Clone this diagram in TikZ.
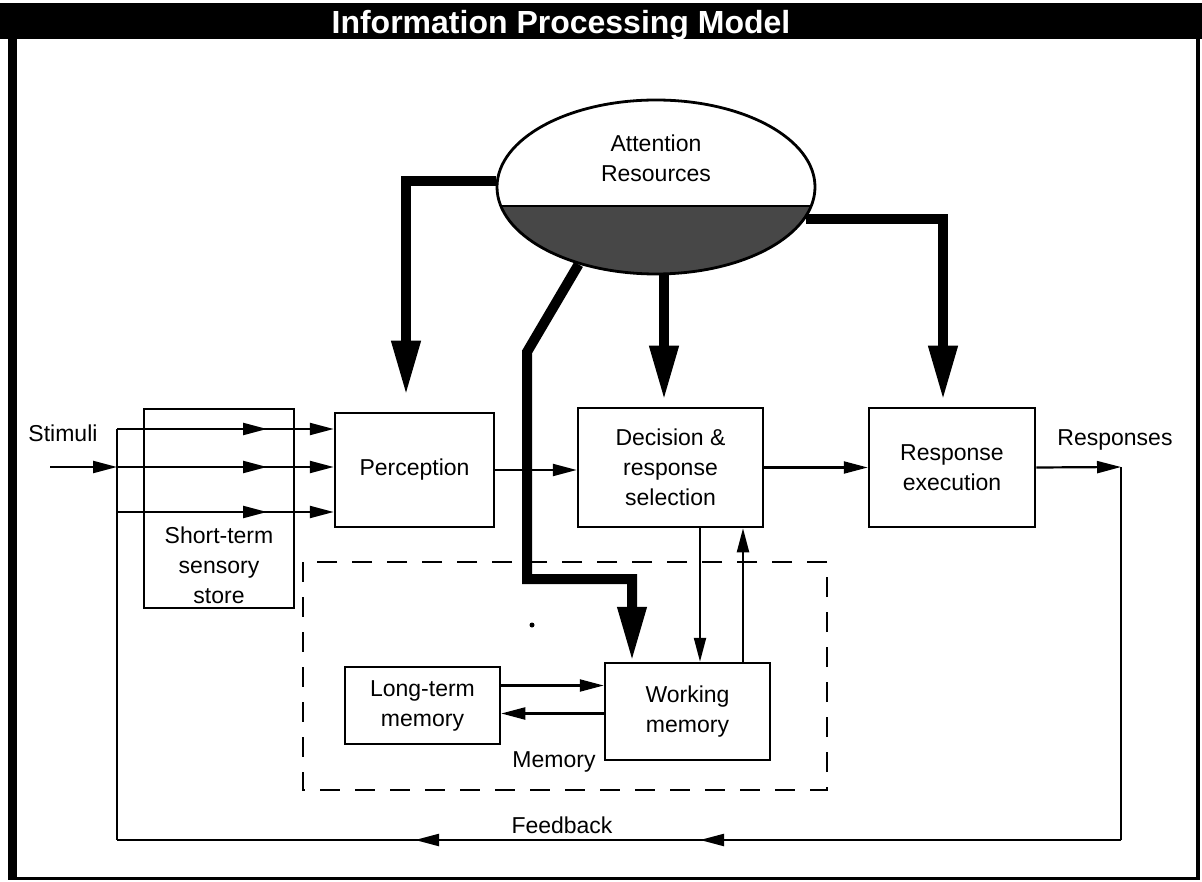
\documentclass[tikz,border=0pt]{standalone}
\usepackage{fontspec}
\setmainfont{Liberation Sans}
\usetikzlibrary{arrows.meta,shapes.geometric,decorations.markings}

\tikzset{
  box/.style={draw,line width=2.5pt,inner sep=0pt,align=center,
    font=\fontsize{23}{30}\selectfont},
  lbl/.style={inner sep=0pt,align=center,font=\fontsize{23}{30}\selectfont},
  thin arr/.style={line width=2.2pt,-{Triangle[length=24pt,width=12pt]}},
  thick arr/.style={line width=10pt,-{Triangle[length=55pt,width=27pt]},
    shorten >=6pt},
  mid arr/.style={postaction={decorate,decoration={markings,
      mark=at position #1 with {\arrow{Triangle[length=24pt,width=12pt]}}}}},
  memframe/.style={line width=2.5pt,dash pattern=on 20pt off 15pt}
}

\begin{document}
\begin{tikzpicture}[x=1pt,y=-1pt]
  \useasboundingbox (0,0) rectangle (1202,882);
  \fill (0,3) rectangle (1202,39);
  \fill (8,39) rectangle (17,880);
  \fill (8,877) rectangle (1200,880);
  \fill (1196,39) rectangle (1200,880);
  \node[text=white,font=\fontsize{32}{36}\selectfont\bfseries] (title) at (561,25)
    {Information Processing Model};

  \begin{scope}
    \clip (656,187) ellipse [x radius=159, y radius=87];
    \fill[black!72] (490,206) rectangle (830,290);
    \draw[line width=2.5pt] (490,206) -- (830,206);
  \end{scope}
  \node[draw,ellipse,line width=2.8pt,minimum width=318pt,minimum height=174pt,
    inner sep=0pt] (attention) at (656,187) {};
  \node[lbl] (attentionlbl) at (656,158) {Attention\\Resources};

  \node[box,minimum width=150pt,minimum height=199pt] (sensory) at (219,508.5) {};
  \node[lbl,anchor=south] (sensorylbl) at ([yshift=5pt]sensory.south)
    {Short-term\\sensory\\store};
  \node[box,minimum width=159pt,minimum height=114pt] (perception) at (414.5,470) {Perception};
  \node[box,minimum width=185pt,minimum height=119pt] (decision) at (670.5,467.5)
    {Decision \&\\response\\selection};
  \node[box,minimum width=166pt,minimum height=119pt] (execution) at (952,467.5)
    {Response\\execution};
  \node[box,minimum width=155pt,minimum height=77pt] (ltm) at (422.5,705.5)
    {Long-term\\memory};
  \node[box,minimum width=165pt,minimum height=97pt] (wm) at (687.5,711.5)
    {Working\\memory};

  \draw[memframe] (303,562) rectangle (827,790);
  \node[lbl] (memlbl) at (554,762) {Memory};
  \fill (532,625) circle (2.5);

  \node[lbl] (stimuli) at (63,433) {Stimuli};
  \node[lbl] (responses) at (1115,440) {Responses};
  \node[lbl] (feedback) at (562,825) {Feedback};

  \coordinate (in) at (50,467);
  \coordinate (s1) at (117,429);
  \coordinate (s2) at (117,467);
  \coordinate (s3) at (117,512);
  \coordinate (fb) at (117,840);
  \coordinate (resp) at (1121,467);
  \coordinate (bend1) at (527,352);
  \coordinate (bend2) at (527,579);

  \draw[thin arr] (in) -- (s2);
  \draw[line width=2.2pt] (s1) -- (fb);
  \foreach \s in {s1,s2,s3}
    \draw[thin arr,mid arr=150pt] (\s) -- (\s -| perception.west);
  \draw[thin arr] (perception.east) -- (perception.east -| decision.west);
  \draw[thin arr] (decision.east) -- (decision.east -| execution.west);
  \draw[thin arr] (execution.east) -- (resp);
  \draw[line width=2.2pt] (resp) -- (resp |- fb);
  \draw[line width=2.2pt,mid arr=421pt,mid arr=706pt] (resp |- fb) -- (fb);
  \draw[thin arr] ([xshift=29.5pt]decision.south) -- ([xshift=29.5pt]decision.south |- wm.north);
  \draw[thin arr] ([xshift=72.5pt]decision.south |- wm.north) -- ([xshift=72.5pt]decision.south);
  \draw[thin arr] ([yshift=20pt]ltm.east) -- ([yshift=20pt]ltm.east -| wm.west);
  \draw[thin arr] ([yshift=-8pt]ltm.east -| wm.west) -- ([yshift=-8pt]ltm.east);

  \draw[thick arr,shorten >=16pt] (attention.178) -| ([xshift=-8.5pt]perception.north);
  \draw[thick arr] ([xshift=-6.5pt]decision.north |- attention.south) -- ([xshift=-6.5pt]decision.north);
  \draw[thick arr] (attention.-12) -| ([xshift=-9pt]execution.north);
  \draw[thick arr,shorten >=0pt] (attention.-135) -- (bend1) -- (bend2) -| ([xshift=-55.5pt]wm.north);
\end{tikzpicture}
\end{document}
